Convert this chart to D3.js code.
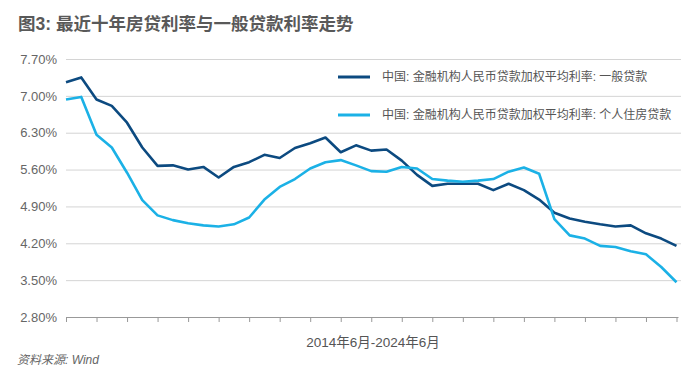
<!DOCTYPE html>
<html>
<head>
  <meta charset="utf-8" />
  <title>图3</title>
  <script src="https://d3js.org/d3.v7.min.js"></script>
  <style>
    body { margin: 0; background: #fff; }
    svg { display: block; }
  </style>
</head>
<body>
  <script>
    // quarterly data, 2014Q2 - 2024Q2
    const quarters = [
      "2014Q2", "2014Q3", "2014Q4", "2015Q1", "2015Q2", "2015Q3", "2015Q4",
      "2016Q1", "2016Q2", "2016Q3", "2016Q4", "2017Q1", "2017Q2", "2017Q3",
      "2017Q4", "2018Q1", "2018Q2", "2018Q3", "2018Q4", "2019Q1", "2019Q2",
      "2019Q3", "2019Q4", "2020Q1", "2020Q2", "2020Q3", "2020Q4", "2021Q1",
      "2021Q2", "2021Q3", "2021Q4", "2022Q1", "2022Q2", "2022Q3", "2022Q4",
      "2023Q1", "2023Q2", "2023Q3", "2023Q4", "2024Q1", "2024Q2"
    ];
    const generalLoans = [
      7.26, 7.35, 6.93, 6.81, 6.49, 6.02, 5.67, 5.68, 5.60, 5.65, 5.45,
      5.65, 5.74, 5.88, 5.82, 6.01, 6.10, 6.21, 5.93, 6.06, 5.96,
      5.98, 5.77, 5.50, 5.29, 5.33, 5.33, 5.33, 5.21, 5.33, 5.21,
      5.03, 4.78, 4.67, 4.61, 4.56, 4.52, 4.54, 4.39, 4.29, 4.15
    ];
    const housingLoans = [
      6.93, 6.98, 6.26, 6.02, 5.54, 5.02, 4.73, 4.64, 4.58, 4.54, 4.52,
      4.56, 4.69, 5.03, 5.27, 5.42, 5.62, 5.74, 5.78, 5.68, 5.57,
      5.56, 5.65, 5.62, 5.42, 5.39, 5.37, 5.39, 5.42, 5.56, 5.64,
      5.52, 4.66, 4.35, 4.29, 4.15, 4.13, 4.05, 3.99, 3.75, 3.46
    ];
    const yTicks = [2.8, 3.5, 4.2, 4.9, 5.6, 6.3, 7.0, 7.7];
    const seriesNames = [
      "中国: 金融机构人民币贷款加权平均利率: 一般贷款",
      "中国: 金融机构人民币贷款加权平均利率: 个人住房贷款"
    ];
    const title = "图3: 最近十年房贷利率与一般贷款利率走势";
    const xTitle = "2014年6月-2024年6月";
    const source = "资料来源: Wind";

    const width = 700, height = 377;
    const mLeft = 66, mRight = 676.5, mTop = 59, mBottom = 317;
    const colors = ["#0c4a80", "#1bb1e6"];
    const latin = "'Liberation Sans', Arial, sans-serif";
    const cjk = "'Liberation Sans', 'Noto Sans CJK SC', sans-serif";

    const svg = d3.select("body").append("svg")
      .attr("width", width)
      .attr("height", height);

    const x = d3.scalePoint().domain(quarters).range([mLeft, mRight]);
    const y = d3.scaleLinear().domain([2.8, 7.7]).range([mBottom, mTop]);

    // title
    svg.append("text")
      .attr("x", 18).attr("y", 30)
      .style("font-family", cjk)
      .style("font-size", "17.5px")
      .style("font-weight", "bold")
      .style("fill", "#595959")
      .text(title);

    // y axis with gridlines
    const gy = svg.append("g")
      .attr("transform", `translate(${mLeft},0)`)
      .call(d3.axisLeft(y)
        .tickValues(yTicks)
        .tickSize(-(681 - mLeft))
        .tickPadding(9)
        .tickFormat(d => d.toFixed(2) + "%"));
    gy.select(".domain").remove();
    gy.selectAll(".tick line")
      .attr("stroke", "#d4d4d4")
      .attr("stroke-width", 1)
      .filter(d => d === 2.8).remove();
    gy.selectAll(".tick text")
      .style("font-family", latin)
      .style("font-size", "13px")
      .style("fill", "#666");

    // x axis: tick every half year, no labels
    const gx = svg.append("g")
      .attr("transform", `translate(0,${mBottom})`)
      .call(d3.axisBottom(x)
        .tickValues(quarters.filter((q, i) => i % 2 === 0))
        .tickSize(5)
        .tickSizeOuter(0)
        .tickFormat(""));
    gx.select(".domain").attr("stroke", "#999").attr("d", `M${mLeft},0.5H${mRight + 2}`);
    gx.selectAll(".tick line").attr("stroke", "#999");

    // lines
    const line = d3.line()
      .x((d, i) => x(quarters[i]))
      .y(d => y(d));

    [generalLoans, housingLoans].forEach((s, k) => {
      svg.append("path")
        .datum(s)
        .attr("d", line)
        .attr("fill", "none")
        .attr("stroke", colors[k])
        .attr("stroke-width", 2.6)
        .attr("stroke-linejoin", "round");
    });

    // legend
    const legend = svg.append("g");
    seriesNames.forEach((name, k) => {
      const ly = 77 + k * 38;
      legend.append("line")
        .attr("x1", 338).attr("x2", 370)
        .attr("y1", ly).attr("y2", ly)
        .attr("stroke", colors[k])
        .attr("stroke-width", 3);
      legend.append("text")
        .attr("x", 382).attr("y", ly)
        .attr("dy", "0.35em")
        .style("font-family", cjk)
        .style("font-size", "12px")
        .style("fill", "#555")
        .text(name);
    });

    // x-axis caption and source
    svg.append("text")
      .attr("x", 373).attr("y", 342)
      .attr("dy", "0.35em")
      .attr("text-anchor", "middle")
      .style("font-family", cjk)
      .style("font-size", "13.5px")
      .style("fill", "#555")
      .text(xTitle);

    svg.append("text")
      .attr("x", 17).attr("y", 360)
      .attr("dy", "0.35em")
      .style("font-family", cjk)
      .style("font-size", "12px")
      .style("font-style", "italic")
      .style("fill", "#666")
      .text(source);
  </script>
</body>
</html>
